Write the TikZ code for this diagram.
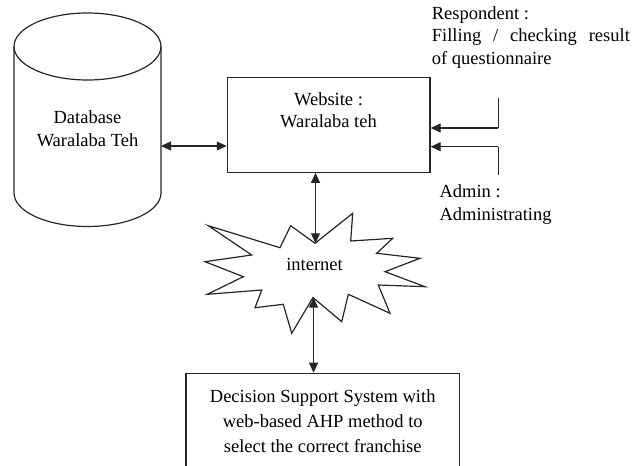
\documentclass[tikz,border=0pt]{standalone}
\usepackage{fontspec}
\setmainfont{Liberation Serif}
\usetikzlibrary{arrows.meta}
\begin{document}
\begin{tikzpicture}[x=1pt,y=-1pt,
  line/.style={line width=1.2pt,draw=black!85},
  dbl/.style={line,{Triangle[length=10pt,width=9pt]}-{Triangle[length=10pt,width=9pt]}},
  sgl/.style={line,-{Triangle[length=10pt,width=9pt]}},
  txt/.style={font=\fontsize{18.5}{22.5}\selectfont,inner sep=0pt,align=center},
  boxnode/.style={line,rectangle,inner sep=0pt}]
\useasboundingbox (0,0) rectangle (644,465);
\clip (0,0) rectangle (644,465);
% database cylinder
\draw[line] (87.5,46.5) ellipse [x radius=73.5, y radius=33.5];
\draw[line] (14,46.5) -- (14,193) arc[start angle=180,end angle=0,x radius=73.5,y radius=33.5] -- (161,46.5);
\node[txt] (db) at (87.5,128.5) {Database\\Waralaba Teh};
% website box
\node[boxnode,minimum width=202.7pt,minimum height=95pt] (web) at (328.7,124.8) {};
\node[txt] (webtxt) at (328.5,110) {Website :\\Waralaba teh};
% internet starburst
\draw[line,line join=miter] (208.3,225.7) -- (280,247.7) -- (290.7,225.7) -- (315,243.3) -- (352.7,213.3) -- (350.7,241) -- (392.7,238.3) -- (376.7,253.3) -- (420,258.3) -- (385,271.7) -- (425,286.7) -- (378.3,285) -- (390,313.3) -- (348.3,294.3) -- (341.7,321.7) -- (313,297.5) -- (291.7,333.3) -- (283.3,304.3) -- (255,307.7) -- (261.7,290) -- (207.3,294.3) -- (243.3,276.7) -- (205,261.7) -- (251.7,255) -- cycle;
\coordinate (nt) at (315.5,243.3);
\coordinate (nb) at (313.5,297.5);
\node[txt] (net) at (314.5,264) {internet};
% DSS box
\node[boxnode,minimum width=273.3pt,minimum height=96pt,txt] (dss) at (322.7,421.3)
  {Decision Support System with\\[2.5pt]web-based AHP method to\\[2.5pt]select the correct franchise};
% respondent / admin texts
\node[txt,anchor=north west,align=left] (resp) at (431.7,6)
  {Respondent :\\\makebox[198pt][s]{Filling / checking result}\\of questionnaire};
\node[txt,anchor=north west,align=left] (adm) at (439.3,184.5) {Admin :\\[0.8pt]Administrating};
% connectors
\coordinate (dbR) at (161,146);
\draw[dbl] (dbR) -- (dbR -| web.west);
\draw[dbl] (nt |- web.south) -- (nt);
\draw[dbl] (nb) -- (nb |- dss.north);
\coordinate (r1) at (498.3,128);
\coordinate (r2) at (498.3,146.7);
\draw[line] (498.3,98.3) -- (r1);
\draw[sgl] (r1) -- (r1 -| web.east);
\draw[line] (r2) -- (498.3,175);
\draw[sgl] (r2) -- (r2 -| web.east);
\end{tikzpicture}
\end{document}
